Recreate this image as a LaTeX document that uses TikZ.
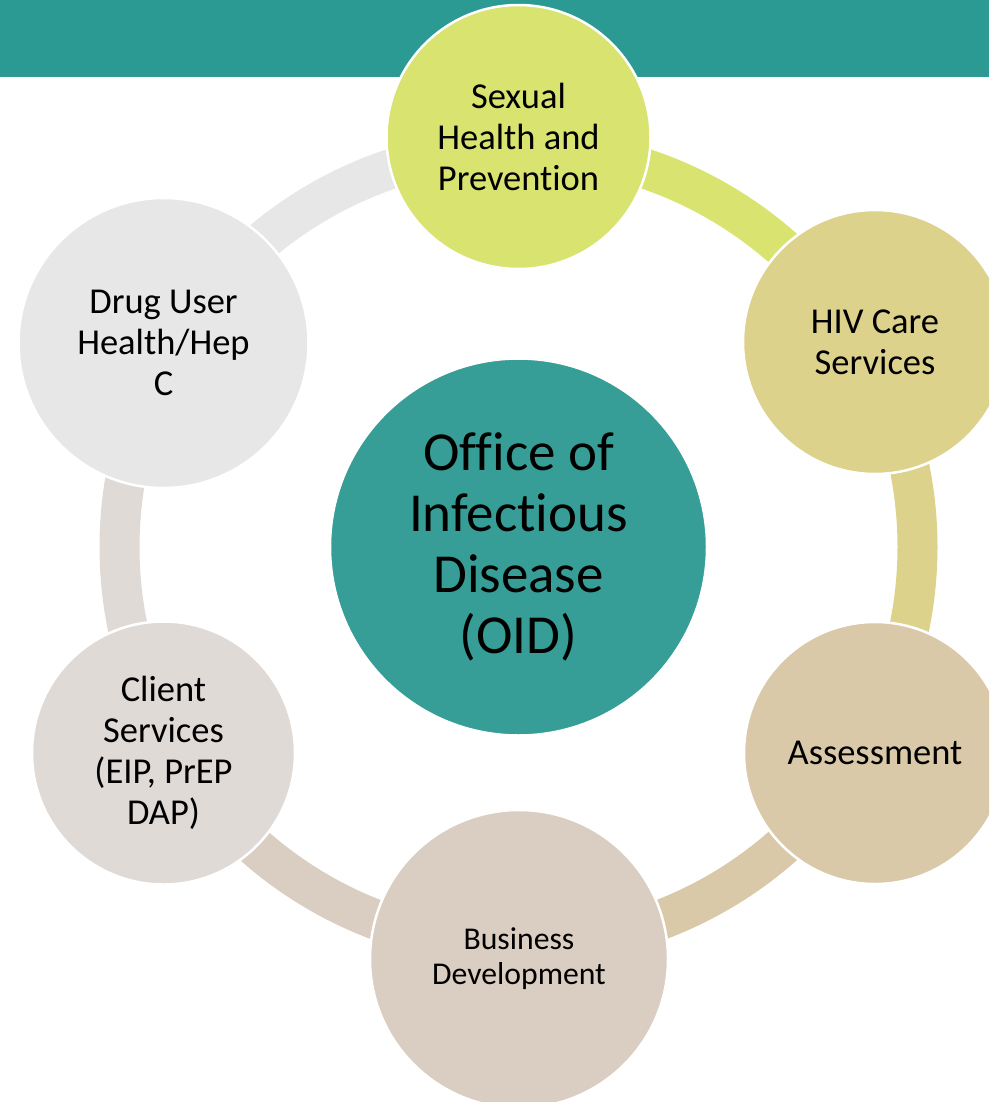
\documentclass[tikz,border=0pt]{standalone}
\usepackage{fontspec}
\setmainfont{Carlito}[Ligatures={NoCommon}]
\definecolor{bandc}{HTML}{2A9A92}
\definecolor{oidc}{HTML}{369E96}
\definecolor{c1}{HTML}{D9E36F}
\definecolor{c2}{HTML}{DDD28C}
\definecolor{c3}{HTML}{D9C9A8}
\definecolor{c4}{HTML}{DACDC2}
\definecolor{c5}{HTML}{E0DAD7}
\definecolor{c6}{HTML}{E7E7E7}
\begin{document}
\begin{tikzpicture}[x=1pt,y=-1pt,
  bubble/.style={circle, draw=white, line width=2.5pt, inner sep=0pt, align=center, text=black,
    font=\fontsize{36.5}{41}\selectfont},
  ringarc/.style={line width=40pt, line cap=butt}]
\useasboundingbox (0,0) rectangle (989,1102);
\clip (0,0) rectangle (989,1102);
\fill[bandc] (0,0) rectangle (989,77);
% centre
\node[bubble, fill=oidc, minimum size=377pt, font=\fontsize{55}{61}\selectfont] (oid) at (518.5,547)
  {Office of\\Infectious\\Disease\\(OID)};
% ring arcs
\draw[ringarc, draw=c1] (oid.center) ++(-90:399) arc[start angle=-90, end angle=-30, radius=399];
\draw[ringarc, draw=c2] (oid.center) ++(-30:399) arc[start angle=-30, end angle=30, radius=399];
\draw[ringarc, draw=c3] (oid.center) ++(30:399) arc[start angle=30, end angle=90, radius=399];
\draw[ringarc, draw=c4] (oid.center) ++(90:399) arc[start angle=90, end angle=150, radius=399];
\draw[ringarc, draw=c5] (oid.center) ++(150:399) arc[start angle=150, end angle=210, radius=399];
\draw[ringarc, draw=c6] (oid.center) ++(210:399) arc[start angle=210, end angle=270, radius=399];
% outer bubbles
\node[bubble, fill=c1, minimum size=264pt] (sex) at (518.5,137) {Sexual\\Health and\\Prevention};
\node[bubble, fill=c2, minimum size=264pt] (hiv) at (875,342) {HIV Care\\Services};
\node[bubble, fill=c3, minimum size=262pt] (ass) at (875,753) {Assessment};
\node[bubble, fill=c4, minimum size=298pt, font=\fontsize{31.7}{35}\selectfont] (bus) at (519,959) {Business\\Development};
\node[bubble, fill=c5, minimum size=263pt] (cli) at (163.5,753) {Client\\Services\\(EIP, PrEP\\DAP)};
\node[bubble, fill=c6, minimum size=290pt] (drug) at (163.5,343) {Drug User\\Health/Hep\\C};
\end{tikzpicture}
\end{document}
